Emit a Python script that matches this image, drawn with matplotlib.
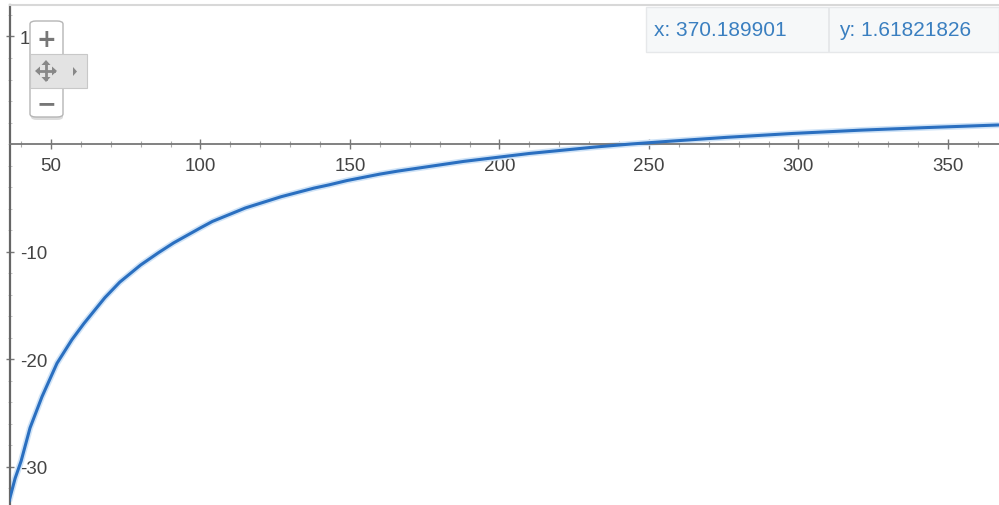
import matplotlib.pyplot as plt
from matplotlib.patches import FancyBboxPatch, Rectangle, Polygon
from matplotlib.lines import Line2D

plt.rcParams['font.family'] = ['Liberation Sans', 'DejaVu Sans']

# curve samples
xs = [36, 38, 40, 43, 47, 52, 57, 61, 68, 73, 80, 86, 91, 100, 104, 115, 127,
      138, 143, 149, 160, 166, 188, 210, 232, 244, 257, 276, 298, 321, 343, 367]
ys = [-33.2, -31.1, -29.5, -26.4, -23.5, -20.4, -18.2, -16.7, -14.3, -12.85,
      -11.25, -10.1, -9.2, -7.8, -7.2, -5.95, -4.9, -4.1, -3.8, -3.4, -2.8,
      -2.52, -1.62, -0.88, -0.28, 0.0, 0.26, 0.62, 0.98, 1.29, 1.53, 1.77]

x_ticks = [50, 100, 150, 200, 250, 300, 350]
y_ticks = [-30, -20, -10, 10]
readout = ['x: 370.189901', 'y: 1.61821826']

W, H = 999, 506
fig = plt.figure(figsize=(W / 100, H / 100), dpi=100)
fig.patch.set_facecolor('white')
ax = fig.add_axes([10 / W, 0, 989 / W, 500 / H])
ax.set_xlim(36.29, 367.06)
ax.set_ylim(-33.58, 12.93)

ax.plot(xs, ys, color='#cfe3f7', lw=4.5, solid_capstyle='butt', zorder=2)
ax.plot(xs, ys, color='#2a6fc0', lw=2.2, zorder=3)

ax.spines['right'].set_visible(False)
ax.spines['left'].set_color('#666666')
ax.spines['left'].set_linewidth(1.6)
ax.spines['top'].set_color('#d8d8d8')
ax.spines['top'].set_linewidth(1.5)

# x axis drawn at y = 0
ax.spines['bottom'].set_position(('data', 0))
ax.spines['bottom'].set_color('#777777')
ax.spines['bottom'].set_linewidth(1.3)

ax.set_xticks(x_ticks)
ax.set_xticks(range(40, 370, 10), minor=True)
ax.tick_params(axis='x', which='major', direction='inout', length=7,
               width=1.0, color='#777777', labelsize=13.5,
               labelcolor='#444444', pad=6)
ax.tick_params(axis='x', which='minor', direction='inout', length=5,
               width=0.8, color='#aaaaaa')

ax.set_yticks(y_ticks)
ax.set_yticks(range(-32, 13, 2), minor=True)
ax.tick_params(axis='y', which='major', direction='inout', length=6,
               width=1.0, color='#777777', labelsize=13.5,
               labelcolor='#444444', pad=-10)
ax.tick_params(axis='y', which='minor', direction='inout', length=3,
               width=0.6, color='#bbbbbb')
ax.set_yticklabels([str(v) for v in y_ticks])
for lab in ax.get_yticklabels():
    lab.set_horizontalalignment('left')


def px(x, y):
    return x / W, 1 - y / H


# zoom control
fig.patches.append(FancyBboxPatch(px(31, 121), 32 / W, 98 / H,
                                  boxstyle='round,pad=0,rounding_size=0.006',
                                  transform=fig.transFigure, fc='#dcdcdc',
                                  ec='none', zorder=5))
fig.patches.append(FancyBboxPatch(px(30, 118), 33 / W, 96 / H,
                                  boxstyle='round,pad=0,rounding_size=0.006',
                                  transform=fig.transFigure, fc='white',
                                  ec='#b5b5b5', lw=1.0, zorder=6))
fig.patches.append(Rectangle(px(30, 89), 57 / W, 34 / H,
                             transform=fig.transFigure, fc='#e3e3e3',
                             ec='#c8c8c8', lw=0.8, zorder=7))
fig.patches.append(Polygon([px(73, 68), px(73, 77), px(77, 72.5)],
                           closed=True, transform=fig.transFigure,
                           fc='#888888', ec='none', zorder=8))
fig.text(*px(46.5, 40), '+', ha='center', va='center', fontsize=17,
         color='#777777', zorder=9, family='DejaVu Sans', weight='bold')
fig.text(*px(46.5, 104), '\u2212', ha='center', va='center', fontsize=17,
         color='#777777', zorder=9, family='DejaVu Sans', weight='bold')
# four-way move arrow
gc = '#888888'
fig.lines.append(Line2D([38 / W, 54 / W], [1 - 72 / H, 1 - 72 / H],
                        transform=fig.transFigure, color=gc, lw=2, zorder=9))
fig.lines.append(Line2D([46 / W, 46 / W], [1 - 64 / H, 1 - 80 / H],
                        transform=fig.transFigure, color=gc, lw=2, zorder=9))
for tri in ([px(35, 72), px(40, 67.5), px(40, 76.5)],
            [px(57, 72), px(52, 67.5), px(52, 76.5)],
            [px(46, 61), px(41.5, 66), px(50.5, 66)],
            [px(46, 83), px(41.5, 78), px(50.5, 78)]):
    fig.patches.append(Polygon(tri, closed=True, transform=fig.transFigure,
                               fc=gc, ec='none', zorder=9))

# coordinate readout
fig.patches.append(Rectangle(px(646, 53), 353 / W, 45 / H,
                             transform=fig.transFigure, fc='#f6f8f9',
                             ec='#e6e8ea', lw=1.0, zorder=5))
fig.patches.append(Rectangle(px(828, 53), 2 / W, 45 / H,
                             transform=fig.transFigure, fc='#e6e8ea',
                             ec='none', zorder=6))
fig.text(*px(654, 30), readout[0], ha='left', va='center', fontsize=15,
         color='#3a7fc0', zorder=7)
fig.text(*px(839, 30), readout[1], ha='left', va='center', fontsize=15,
         color='#3a7fc0', zorder=7)

fig.savefig('out.png', dpi=100)
